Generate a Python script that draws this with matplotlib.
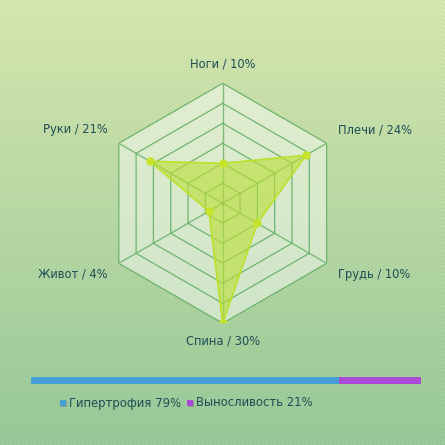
import numpy as np
import matplotlib
matplotlib.use("Agg")
import matplotlib.pyplot as plt
from matplotlib.patches import Rectangle

# --- data -------------------------------------------------------------
categories = ["Ноги", "Плечи", "Грудь", "Спина", "Живот", "Руки"]
shares = [10, 24, 10, 30, 4, 21]          # percent of total volume
scale_max = 30
scale_step = 5

split_names = ["Гипертрофия", "Выносливость"]
split_values = [79, 21]
split_colors = ["#46a0d5", "#a94bd5"]

# --- figure -----------------------------------------------------------
W = H = 445
DPI = 100
fig = plt.figure(figsize=(W / DPI, H / DPI), dpi=DPI)

# background: vertical gradient with fine diagonal stripes
yy, xx = np.mgrid[0:H, 0:W]
t = (yy / (H - 1))[..., None]
top = np.array([217, 232, 176]) / 255
bottom = np.array([154, 202, 155]) / 255
bg_img = top * (1 - t) + bottom * t
stripe = ((xx + yy) % 4 == 0)[..., None]
bg_img = np.where(stripe, bg_img * np.array([0.93, 0.96, 0.93]), bg_img)
bg = fig.add_axes([0, 0, 1, 1], zorder=-10)
bg.imshow(bg_img, extent=[0, 1, 0, 1], aspect="auto", interpolation="nearest")
bg.set_axis_off()

# radar axes
cx, cy, R = 222.7, 203.3, 120.0
rect = [(cx - R) / W, (H - cy - R) / H, 2 * R / W, 2 * R / H]
ax = fig.add_axes(rect, projection="polar")
ax.set_facecolor("none")
ax.set_theta_zero_location("N")
ax.set_theta_direction(-1)
ax.set_ylim(0, scale_max)
ax.set_xticks([])
ax.set_yticks([])
ax.grid(False)
ax.spines["polar"].set_visible(False)

n = len(categories)
theta = np.arange(n) * 2 * np.pi / n
theta_c = np.append(theta, theta[0])

grid_color = "#5eab5e"
ax.fill(theta_c, [scale_max] * (n + 1), color="white", alpha=0.45, lw=0, zorder=1)
for r in range(scale_step, scale_max + 1, scale_step):
    ax.plot(theta_c, [r] * (n + 1), color=grid_color, lw=0.9, alpha=0.85, zorder=2)
for th in theta:
    ax.plot([th, th], [0, scale_max], color=grid_color, lw=1.0, alpha=0.75, zorder=2)

vals_c = shares + shares[:1]
ax.fill(theta_c, vals_c, color="#bbdf36", alpha=0.62, lw=0, zorder=3)
ax.plot(theta_c, vals_c, color="#bde02c", lw=1.2, zorder=4)
ax.plot(theta, shares, "o", ms=5, color="#c6e42a", zorder=5)

label_color = "#1e4e55"
offsets = [(0, 19, "center"), (11, 13, "left"), (11, -11, "left"),
           (0, -18, "center"), (-11, -11, "right"), (-11, 14, "right")]
for th, cat, v, (dx, dy, ha) in zip(theta, categories, shares, offsets):
    ax.annotate(f"{cat} / {v}%", xy=(th, scale_max), xytext=(dx, dy),
                textcoords="offset pixels", ha=ha, va="center",
                fontsize=8.3, color=label_color, annotation_clip=False)

# stacked share bar
bx = fig.add_axes([31 / W, 1 - 384 / H, 390 / W, 7 / H])
left = 0
for val, col in zip(split_values, split_colors):
    bx.barh(0, val, left=left, height=1.0, color=col, lw=0)
    left += val
bx.set_xlim(0, sum(split_values))
bx.set_ylim(-0.5, 0.5)
bx.set_axis_off()

# legend row
renderer = fig.canvas.get_renderer()
x = 60.0
ymid = 403.0
for name, val, col in zip(split_names, split_values, split_colors):
    sq = 6
    fig.patches.append(Rectangle(((x + 1) / W, 1 - (ymid + sq / 2 + 1) / H), sq / W, sq / H,
                                 transform=fig.transFigure, color="#8a9a8a", lw=0))
    fig.patches.append(Rectangle((x / W, 1 - (ymid + sq / 2) / H), sq / W, sq / H,
                                 transform=fig.transFigure, color=col, lw=0))
    txt = fig.text((x + 9.3) / W, 1 - ymid / H, f"{name} {val}%", ha="left", va="center",
                   fontsize=8.4, color=label_color)
    ext = txt.get_window_extent(renderer=renderer)
    x = ext.x1 + 5.6

fig.savefig("out.png", dpi=DPI)
